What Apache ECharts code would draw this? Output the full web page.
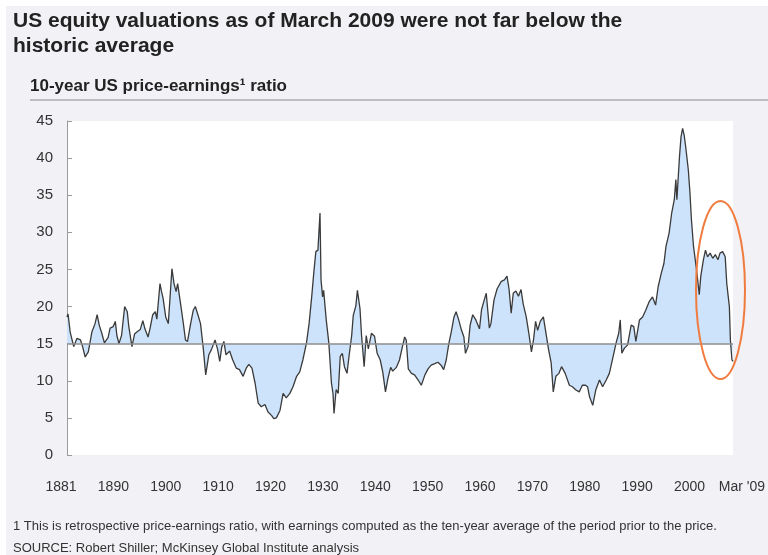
<!DOCTYPE html>
<html>
<head>
<meta charset="utf-8">
<title>US price-earnings ratio</title>
<script src="https://cdn.jsdelivr.net/npm/echarts@6/dist/echarts.min.js"></script>
<style>
    html, body { margin: 0; padding: 0; background: #fff; }
    #chart { width: 768px; height: 555px; }
</style>
</head>
<body>
<div id="chart"></div>
<script>
// 10-year P/E (year, ratio)
var years = [
    1881.0, 1881.2, 1881.6, 1882.3, 1882.9, 1883.6, 1884.0, 1884.5, 1885.1, 1885.8,
    1886.4, 1886.8, 1887.2, 1887.7, 1888.2, 1888.9, 1889.3, 1889.9, 1890.3, 1890.6,
    1891.0, 1891.5, 1892.1, 1892.6, 1892.9, 1893.5, 1894.0, 1894.5, 1895.1, 1895.6,
    1896.0, 1896.6, 1897.0, 1897.5, 1898.0, 1898.3, 1898.9, 1899.2, 1899.5, 1900.0,
    1900.5, 1901.2, 1901.6, 1902.0, 1902.3, 1902.9, 1903.4, 1903.8, 1904.2, 1904.8,
    1905.3, 1905.7, 1906.2, 1906.7, 1907.2, 1907.7, 1908.3, 1908.8, 1909.5, 1910.0,
    1910.4, 1910.8, 1911.2, 1911.6, 1912.3, 1912.9, 1913.6, 1914.2, 1914.9, 1915.5,
    1916.0, 1916.6, 1917.2, 1917.8, 1918.4, 1919.1, 1919.7, 1920.4, 1920.8, 1921.3,
    1922.0, 1922.6, 1923.2, 1923.9, 1924.5, 1925.2, 1925.8, 1926.4, 1927.1, 1927.6,
    1928.1, 1928.5, 1928.9, 1929.3, 1929.7, 1929.9, 1930.2, 1930.4, 1930.9, 1931.4,
    1931.9, 1932.2, 1932.4, 1932.8, 1933.2, 1933.6, 1934.0, 1934.4, 1934.9, 1935.2,
    1935.8, 1936.1, 1936.6, 1936.9, 1937.4, 1937.7, 1938.2, 1938.6, 1939.0, 1939.6,
    1940.2, 1940.7, 1941.3, 1941.8, 1942.3, 1942.8, 1943.3, 1943.7, 1944.4, 1945.0,
    1945.5, 1946.0, 1946.3, 1946.7, 1947.3, 1947.9, 1948.6, 1949.2, 1949.9, 1950.5,
    1951.1, 1951.8, 1952.4, 1953.0, 1953.5, 1954.0, 1954.5, 1955.0, 1955.5, 1955.9,
    1956.4, 1956.9, 1957.4, 1957.7, 1958.2, 1958.6, 1959.1, 1959.7, 1960.4, 1960.8,
    1961.2, 1961.7, 1962.3, 1962.6, 1963.2, 1963.8, 1964.6, 1965.2, 1965.7, 1966.1,
    1966.5, 1966.9, 1967.4, 1967.9, 1968.4, 1968.8, 1969.4, 1969.9, 1970.4, 1970.8,
    1971.2, 1971.6, 1972.1, 1972.7, 1973.2, 1973.7, 1974.2, 1974.6, 1975.1, 1975.7,
    1976.2, 1976.9, 1977.7, 1978.3, 1978.9, 1979.6, 1980.2, 1980.8, 1981.2, 1981.6,
    1982.2, 1982.8, 1983.5, 1984.1, 1984.8, 1985.4, 1986.1, 1986.7, 1987.2, 1987.5,
    1987.8, 1988.3, 1988.9, 1989.6, 1990.1, 1990.5, 1991.2, 1991.8, 1992.4, 1993.1,
    1993.7, 1994.3, 1994.8, 1995.4, 1995.9, 1996.3, 1996.9, 1997.4, 1997.9, 1998.2,
    1998.4, 1998.9, 1999.2, 1999.5, 1999.8, 2000.1, 2000.6, 2000.9, 2001.2, 2001.6,
    2002.1, 2002.4, 2002.7, 2003.0, 2003.5, 2003.9, 2004.3, 2004.8, 2005.3, 2005.8,
    2006.3, 2006.7, 2007.2, 2007.7, 2008.0, 2008.5, 2008.7, 2009.0, 2009.2
];
var pe = [
    18.6, 19.0, 16.6, 14.6, 15.7, 15.5, 14.6, 13.2, 13.9, 16.6,
    17.7, 18.9, 17.5, 16.4, 15.1, 15.8, 17.1, 17.3, 18.0, 16.1,
    15.0, 16.1, 20.0, 19.3, 17.3, 14.6, 16.3, 16.6, 16.9, 18.1,
    17.0, 15.9, 17.1, 18.9, 19.3, 18.3, 23.1, 22.0, 21.1, 18.6,
    17.7, 25.1, 23.1, 22.0, 23.1, 20.2, 17.7, 15.5, 15.3, 17.7,
    19.5, 20.0, 18.9, 17.7, 14.6, 10.8, 13.5, 14.2, 15.5, 14.2,
    12.6, 14.6, 15.3, 13.5, 14.0, 12.8, 11.7, 11.5, 10.6, 11.7,
    12.2, 11.7, 9.7, 7.0, 6.5, 6.8, 5.8, 5.3, 4.9, 5.0,
    6.0, 8.3, 7.7, 8.3, 9.2, 10.6, 11.2, 12.8, 15.1, 17.7,
    21.3, 24.5, 27.4, 27.6, 32.6, 23.6, 21.3, 22.2, 18.2, 15.1,
    9.7, 8.3, 5.6, 8.8, 8.3, 13.3, 13.7, 11.9, 11.0, 12.8,
    16.1, 18.8, 20.1, 22.2, 19.7, 16.1, 11.9, 16.1, 14.3, 16.4,
    16.0, 13.7, 12.8, 11.1, 8.5, 10.4, 11.8, 11.3, 11.8, 12.8,
    14.4, 15.9, 15.5, 11.6, 11.0, 10.8, 10.1, 9.4, 10.8, 11.6,
    12.1, 12.3, 12.5, 12.1, 11.5, 12.8, 15.0, 16.7, 18.6, 19.3,
    18.2, 16.9, 15.9, 13.7, 14.6, 17.5, 18.9, 18.2, 17.0, 19.6,
    20.6, 21.8, 17.1, 17.7, 20.9, 22.4, 23.4, 23.6, 24.1, 22.3,
    19.1, 21.8, 22.1, 21.4, 22.3, 20.4, 18.6, 16.4, 13.9, 15.5,
    18.0, 16.8, 18.0, 18.6, 16.4, 14.2, 12.4, 8.5, 10.6, 11.0,
    11.9, 11.0, 9.4, 9.2, 8.8, 8.5, 9.4, 9.4, 9.2, 7.8,
    6.7, 8.8, 10.1, 9.2, 10.1, 11.0, 13.2, 15.1, 16.4, 18.2,
    13.7, 14.4, 14.8, 17.5, 17.3, 15.3, 18.2, 18.6, 19.5, 20.7,
    21.3, 20.2, 22.7, 24.5, 25.8, 28.1, 29.9, 32.6, 34.4, 37.1,
    34.4, 40.2, 42.9, 44.0, 43.1, 41.5, 38.4, 35.5, 31.7, 28.1,
    25.4, 23.6, 21.6, 24.1, 26.3, 27.6, 26.7, 27.2, 26.5, 27.0,
    26.3, 27.2, 27.4, 26.7, 23.1, 20.0, 15.5, 12.8, 12.6
];
var historicAvg = 15;
var xLabels = ['1881', '1890', '1900', '1910', '1920', '1930', '1940', '1950',
    '1960', '1970', '1980', '1990', '2000', "Mar '09"];

var points = [];
for (var i = 0; i < years.length; i++) {
    points.push([years[i], pe[i]]);
}

var font = 'Liberation Sans, Arial, sans-serif';
var myChart = echarts.init(document.getElementById('chart'));

var option = {
    backgroundColor: '#f2f1f5',
    animation: false,
    title: [{
        text: 'US equity valuations as of March 2009 were not far below the\nhistoric average',
        left: 13,
        top: 9,
        padding: 0,
        textStyle: { fontFamily: font, fontSize: 21, fontWeight: 'bold', color: '#222', lineHeight: 25 }
    }, {
        text: '10-year US price-earnings\u00b9 ratio',
        left: 30,
        top: 78,
        padding: 0,
        textStyle: { fontFamily: font, fontSize: 17, fontWeight: 'bold', color: '#222' }
    }, {
        text: '1 This is retrospective price-earnings ratio, with earnings computed as the ten-year average of the period prior to the price.',
        left: 13,
        top: 520,
        padding: 0,
        textStyle: { fontFamily: font, fontSize: 13, fontWeight: 'normal', color: '#333' }
    }, {
        text: 'SOURCE: Robert Shiller; McKinsey Global Institute analysis',
        left: 13,
        top: 542,
        padding: 0,
        textStyle: { fontFamily: font, fontSize: 13, fontWeight: 'normal', color: '#333' }
    }],
    grid: [{
        left: 67, right: 35, top: 121, bottom: 100,
        show: true, backgroundColor: '#fff', borderWidth: 0
    }, {
        // only carries the evenly spaced year labels
        left: 61, right: 17, top: 121, bottom: 100, show: false
    }],
    xAxis: [{
        type: 'value',
        gridIndex: 0,
        min: 1881,
        max: 2009.2,
        show: false
    }, {
        type: 'category',
        gridIndex: 1,
        data: xLabels,
        boundaryGap: false,
        axisLine: { show: false },
        axisTick: { show: false },
        axisLabel: { interval: 0, margin: 25, fontFamily: font, fontSize: 14, color: '#333' }
    }],
    yAxis: [{
        type: 'value',
        gridIndex: 0,
        min: 0,
        max: 45,
        interval: 5,
        axisLine: { show: true, lineStyle: { color: '#9a9a9a', width: 1 } },
        axisTick: { show: true, inside: true, length: 5, lineStyle: { color: '#9a9a9a' } },
        axisLabel: { margin: 14, fontFamily: font, fontSize: 15, color: '#333' },
        splitLine: { show: false }
    }, {
        type: 'value',
        gridIndex: 1,
        show: false
    }],
    series: [{
        type: 'line',
        xAxisIndex: 0,
        yAxisIndex: 0,
        data: points,
        symbol: 'none',
        lineStyle: { color: '#3a3a3a', width: 1.3 },
        areaStyle: { color: '#cde3fb', opacity: 1, origin: historicAvg },
        markLine: {
            silent: true,
            symbol: 'none',
            label: { show: false },
            lineStyle: { color: '#8e8e8e', width: 1.5, type: 'solid' },
            data: [{ yAxis: historicAvg }]
        }
    }],
    graphic: [
        { type: 'rect', shape: { x: 0, y: 0, width: 768, height: 6 }, style: { fill: '#fff' }, silent: true },
        { type: 'rect', shape: { x: 0, y: 0, width: 6, height: 555 }, style: { fill: '#fff' }, silent: true },
        { type: 'line', shape: { x1: 30, y1: 100, x2: 768, y2: 100 }, style: { stroke: '#8a8a8a', lineWidth: 1 }, silent: true },
        {
            type: 'ellipse',
            shape: { cx: 720.5, cy: 290, rx: 24.5, ry: 89 },
            style: { fill: null, stroke: '#f07b3f', lineWidth: 2 },
            z: 100,
            silent: true
        }
    ]
};

myChart.setOption(option);
</script>
</body>
</html>
